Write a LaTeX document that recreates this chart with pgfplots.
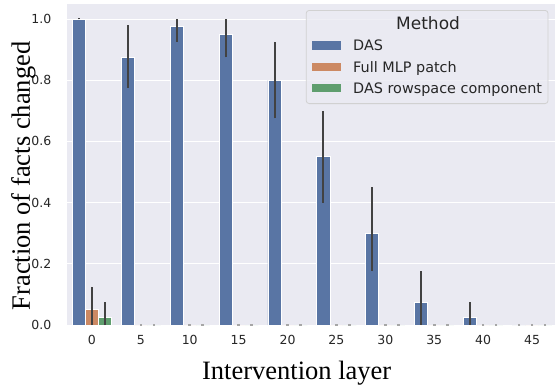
\documentclass[border=0pt]{standalone}
\usepackage{pgfplots}
\pgfplotsset{compat=1.18}
\usepackage{fontspec}
\setmainfont{Liberation Serif}
\newfontfamily\dejavu{DejaVu Sans}
\definecolor{axbg}{HTML}{EAEAF2}
\definecolor{dasc}{HTML}{5975A4}
\definecolor{mlpc}{HTML}{CC8963}
\definecolor{rowc}{HTML}{5F9E6E}
\definecolor{errc}{HTML}{424242}
\definecolor{tickc}{HTML}{262626}
\pgfplotsset{
  mybar/.style={ybar, bar width=0.2667, bar shift=0pt, draw=white, line width=0.8pt,
    legend image code/.code={\path[##1, draw=none, fill, fill opacity=1, sharp corners] (0pt,-3.4pt) rectangle (29pt,5pt);},
    /pgfplots/error bars/y dir=both, /pgfplots/error bars/y explicit, /pgfplots/error bars/error mark=none,
    /pgfplots/error bars/error bar style={line width=2pt, color=errc}},
}
\begin{document}
\begin{tikzpicture}
\path[use as bounding box] (-67.5pt,-59pt) rectangle (487.5pt,325pt);
\begin{axis}[
  at={(0pt,0pt)}, anchor=south west,
  scale only axis, width=489pt, height=321.3pt,
  xmin=-0.5, xmax=9.5, ymin=0, ymax=1.05,
  clip=false,
  axis background/.style={fill=axbg},
  axis line style={draw=none},
  major tick length=0pt,
  ymajorgrids, grid style={white, line width=1pt},
  xtick={0,...,9}, xticklabels={0,5,10,15,20,25,30,35,40,45},
  ytick={0,0.2,0.4,0.6,0.8,1.0},
  /pgf/number format/.cd, fixed, fixed zerofill, precision=1, assume math mode=true, /pgfplots/.cd,
  tick label style={font=\dejavu\fontsize{12.5}{14}\selectfont, text=tickc, inner sep=0pt},
  xticklabel style={anchor=north, yshift=-10pt},
  yticklabel style={anchor=east, xshift=-16pt},
  xlabel={Intervention layer},
  ylabel={Fraction of facts changed},
  xlabel style={at={(axis description cs:0.4687,-0.1681)}, anchor=base, font=\fontsize{26.5}{30}\selectfont},
  ylabel style={at={(axis description cs:-0.0767,0.4637)}, anchor=base, font=\fontsize{26.5}{30}\selectfont},
  legend cell align=left,
  legend style={at={(axis description cs:0.9836,0.9804)}, anchor=north east,
    fill=axbg, fill opacity=0.8, text opacity=1, draw=black!18, rounded corners=3pt, line width=0.8pt,
    inner xsep=6pt, inner ysep=4pt, column sep=12pt, row sep=0pt,
    font=\dejavu\fontsize{14.4}{17}\selectfont, text=tickc,
    nodes={inner sep=0pt, text height=15pt, text depth=6.3pt}},
]
\addlegendimage{empty legend}
\addlegendentry{\hspace{43pt}\fontsize{17}{20}\selectfont Method}

% DAS (layers 0,5,...,45 at positions 0..9, shifted left by one bar width)
\addplot[mybar, fill=dasc] coordinates {
 (-0.2667,1.0)   += (0,0.004) -= (0,0)
 (0.7333,0.875) += (0,0.105) -= (0,0.100)
 (1.7333,0.975) += (0,0.025) -= (0,0.050)
 (2.7333,0.950) += (0,0.050) -= (0,0.075)
 (3.7333,0.800) += (0,0.125) -= (0,0.125)
 (4.7333,0.550) += (0,0.150) -= (0,0.150)
 (5.7333,0.300) += (0,0.150) -= (0,0.125)
 (6.7333,0.075) += (0,0.100) -= (0,0.075)
 (7.7333,0.025) += (0,0.050) -= (0,0.025)
 (8.7333,0)     += (0,0) -= (0,0)
};
\addlegendentry{DAS}

% Full MLP patch (centre of each group)
\addplot[mybar, fill=mlpc] coordinates {
 (0,0.05) += (0,0.075) -= (0,0.05)
 (1,0) += (0,0) -= (0,0)
 (2,0) += (0,0) -= (0,0)
 (3,0) += (0,0) -= (0,0)
 (4,0) += (0,0) -= (0,0)
 (5,0) += (0,0) -= (0,0)
 (6,0) += (0,0) -= (0,0)
 (7,0) += (0,0) -= (0,0)
 (8,0) += (0,0) -= (0,0)
 (9,0) += (0,0) -= (0,0)
};
\addlegendentry{Full MLP patch}

% DAS rowspace component (shifted right by one bar width)
\addplot[mybar, fill=rowc] coordinates {
 (0.2667,0.025) += (0,0.05) -= (0,0.025)
 (1.2667,0) += (0,0) -= (0,0)
 (2.2667,0) += (0,0) -= (0,0)
 (3.2667,0) += (0,0) -= (0,0)
 (4.2667,0) += (0,0) -= (0,0)
 (5.2667,0) += (0,0) -= (0,0)
 (6.2667,0) += (0,0) -= (0,0)
 (7.2667,0) += (0,0) -= (0,0)
 (8.2667,0) += (0,0) -= (0,0)
 (9.2667,0) += (0,0) -= (0,0)
};
\addlegendentry{DAS rowspace component}

% zero-height results (drawn as small grey dashes)
\addplot[only marks, mark=-, mark size=1.3pt, mark options={line width=1.4pt, color=black!35}, forget plot] coordinates {
 (1,0) (2,0) (3,0) (4,0) (5,0) (6,0) (7,0) (8,0) (9,0)
 (1.2667,0) (2.2667,0) (3.2667,0) (4.2667,0) (5.2667,0) (6.2667,0) (7.2667,0) (8.2667,0) (9.2667,0)
 (8.7333,0)
};
\end{axis}
\end{tikzpicture}
\end{document}
